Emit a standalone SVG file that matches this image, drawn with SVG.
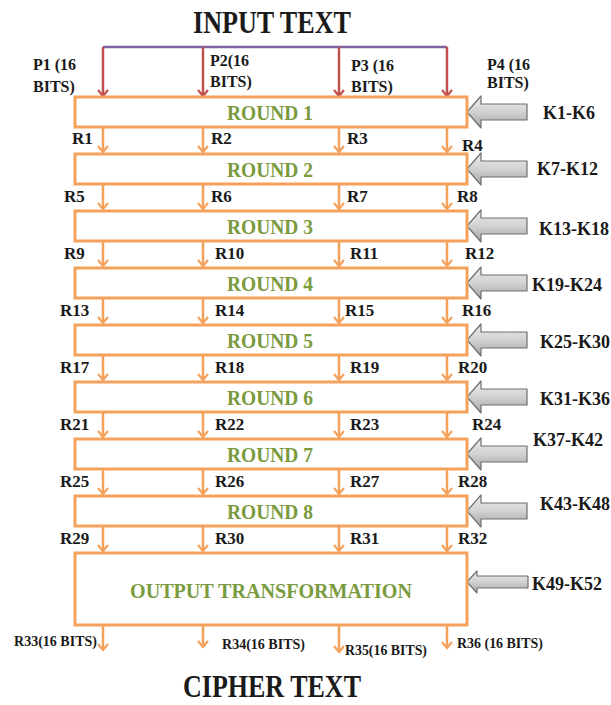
<svg xmlns="http://www.w3.org/2000/svg" width="611" height="705" viewBox="0 0 611 705">
<defs>
<style>
.t{font-family:"Liberation Serif","Times New Roman",serif;font-weight:bold;fill:#1a1a1a}
.p{font-size:16px}
.s{font-size:17px}
.k{font-size:18px}
.xs{font-size:14px}
.title{font-size:31px}
.rnd{font-family:"Liberation Serif","Times New Roman",serif;font-weight:bold;font-size:22px;fill:#7A9A3E;text-anchor:middle}
.box{fill:#fff;stroke:#F4A15C;stroke-width:3}
.oa{stroke:#F4A15C;stroke-width:2.5;fill:none}
.ra{stroke:#C0504D;stroke-width:2.5;fill:none}
.key{fill:url(#g);stroke:#6f6f6f;stroke-width:1.2;stroke-linejoin:round}
</style>
<linearGradient id="g" x1="0" y1="0" x2="0" y2="1">
<stop offset="0" stop-color="#ececec"/>
<stop offset="0.5" stop-color="#d2d2d2"/>
<stop offset="1" stop-color="#a4a4a4"/>
</linearGradient>
<marker id="mo" markerWidth="12" markerHeight="12" refX="6" refY="10" orient="0" markerUnits="userSpaceOnUse">
<path d="M1,4 L6,10 L11,4" fill="none" stroke="#F4A15C" stroke-width="2.2"/>
</marker>
<marker id="mr" markerWidth="12" markerHeight="12" refX="6" refY="10" orient="0" markerUnits="userSpaceOnUse">
<path d="M1,4 L6,10 L11,4" fill="none" stroke="#C0504D" stroke-width="2.2"/>
</marker>
<path id="karrow" d="M0,0 L14,-16 L14,-8 L60,-8 L60,8 L14,8 L14,16 Z"/>
<path id="karrow2" d="M0,0 L10,-11 L10,-6 L61,-6 L61,6 L10,6 L10,11 Z"/>
</defs>

<text class="t title" x="272" y="33" text-anchor="middle" textLength="158" lengthAdjust="spacingAndGlyphs">INPUT TEXT</text>

<g id="connectors">
<path d="M103,47 L447,47" stroke="#8064A2" stroke-width="2.5" fill="none"/>
<path class="ra" d="M103,47 V96" marker-end="url(#mr)"/>
<path class="ra" d="M203,47 V96" marker-end="url(#mr)"/>
<path class="ra" d="M339,47 V96" marker-end="url(#mr)"/>
<path class="ra" d="M447,47 V96" marker-end="url(#mr)"/>
<g class="oa">
<path d="M103,127 V152" marker-end="url(#mo)"/><path d="M203,127 V152" marker-end="url(#mo)"/><path d="M339,127 V152" marker-end="url(#mo)"/><path d="M447,127 V152" marker-end="url(#mo)"/>
<path d="M103,184 V209" marker-end="url(#mo)"/><path d="M203,184 V209" marker-end="url(#mo)"/><path d="M339,184 V209" marker-end="url(#mo)"/><path d="M447,184 V209" marker-end="url(#mo)"/>
<path d="M103,241 V266" marker-end="url(#mo)"/><path d="M203,241 V266" marker-end="url(#mo)"/><path d="M339,241 V266" marker-end="url(#mo)"/><path d="M447,241 V266" marker-end="url(#mo)"/>
<path d="M103,298 V323" marker-end="url(#mo)"/><path d="M203,298 V323" marker-end="url(#mo)"/><path d="M339,298 V323" marker-end="url(#mo)"/><path d="M447,298 V323" marker-end="url(#mo)"/>
<path d="M103,355 V380" marker-end="url(#mo)"/><path d="M203,355 V380" marker-end="url(#mo)"/><path d="M339,355 V380" marker-end="url(#mo)"/><path d="M447,355 V380" marker-end="url(#mo)"/>
<path d="M103,412 V437" marker-end="url(#mo)"/><path d="M203,412 V437" marker-end="url(#mo)"/><path d="M339,412 V437" marker-end="url(#mo)"/><path d="M447,412 V437" marker-end="url(#mo)"/>
<path d="M103,469 V494" marker-end="url(#mo)"/><path d="M203,469 V494" marker-end="url(#mo)"/><path d="M339,469 V494" marker-end="url(#mo)"/><path d="M447,469 V494" marker-end="url(#mo)"/>
<path d="M103,526 V551" marker-end="url(#mo)"/><path d="M203,526 V551" marker-end="url(#mo)"/><path d="M339,526 V551" marker-end="url(#mo)"/><path d="M447,526 V551" marker-end="url(#mo)"/>
<path d="M103,625 V650" marker-end="url(#mo)"/><path d="M203,625 V647" marker-end="url(#mo)"/><path d="M339,625 V652" marker-end="url(#mo)"/><path d="M447,625 V648" marker-end="url(#mo)"/>
</g>
<use href="#karrow" class="key" x="467" y="112"/>
<use href="#karrow" class="key" x="467" y="169"/>
<use href="#karrow" class="key" x="467" y="226"/>
<use href="#karrow" class="key" x="467" y="283"/>
<use href="#karrow" class="key" x="467" y="340"/>
<use href="#karrow" class="key" x="467" y="397"/>
<use href="#karrow" class="key" x="467" y="454"/>
<use href="#karrow" class="key" x="467" y="511"/>
<use href="#karrow2" class="key" x="467" y="582"/>
</g>

<g id="input-labels" class="t p">
<text x="33" y="70">P1 (16</text><text x="33" y="92">BITS)</text>
<text x="210" y="66">P2(16</text><text x="210" y="87">BITS)</text>
<text x="351" y="71">P3 (16</text><text x="351" y="92">BITS)</text>
<text x="487" y="70">P4 (16</text><text x="487" y="88">BITS)</text>
</g>

<g id="round1"><rect class="box" x="75" y="97" width="392" height="30"/><text class="rnd" x="270" y="120" textLength="86" lengthAdjust="spacingAndGlyphs">ROUND 1</text></g>
<g id="round2"><rect class="box" x="75" y="154" width="392" height="30"/><text class="rnd" x="270" y="177" textLength="86" lengthAdjust="spacingAndGlyphs">ROUND 2</text></g>
<g id="round3"><rect class="box" x="75" y="211" width="392" height="30"/><text class="rnd" x="270" y="234" textLength="86" lengthAdjust="spacingAndGlyphs">ROUND 3</text></g>
<g id="round4"><rect class="box" x="75" y="268" width="392" height="30"/><text class="rnd" x="270" y="291" textLength="86" lengthAdjust="spacingAndGlyphs">ROUND 4</text></g>
<g id="round5"><rect class="box" x="75" y="325" width="392" height="30"/><text class="rnd" x="270" y="348" textLength="86" lengthAdjust="spacingAndGlyphs">ROUND 5</text></g>
<g id="round6"><rect class="box" x="75" y="382" width="392" height="30"/><text class="rnd" x="270" y="405" textLength="86" lengthAdjust="spacingAndGlyphs">ROUND 6</text></g>
<g id="round7"><rect class="box" x="75" y="439" width="392" height="30"/><text class="rnd" x="270" y="462" textLength="86" lengthAdjust="spacingAndGlyphs">ROUND 7</text></g>
<g id="round8"><rect class="box" x="75" y="496" width="392" height="30"/><text class="rnd" x="270" y="519" textLength="86" lengthAdjust="spacingAndGlyphs">ROUND 8</text></g>
<g id="output"><rect class="box" x="75" y="553" width="392" height="72"/><text class="rnd" x="271" y="598" textLength="282" lengthAdjust="spacingAndGlyphs">OUTPUT TRANSFORMATION</text></g>

<g id="r-labels" class="t s">
<text x="72" y="144">R1</text><text x="211" y="144">R2</text><text x="347" y="144">R3</text><text x="462" y="151">R4</text>
<text x="64" y="202">R5</text><text x="211" y="202">R6</text><text x="347" y="202">R7</text><text x="457" y="202">R8</text>
<text x="64" y="259">R9</text><text x="215" y="259">R10</text><text x="350" y="259">R11</text><text x="465" y="259">R12</text>
<text x="60" y="316">R13</text><text x="215" y="316">R14</text><text x="345" y="316">R15</text><text x="462" y="316">R16</text>
<text x="60" y="373">R17</text><text x="215" y="373">R18</text><text x="350" y="373">R19</text><text x="458" y="373">R20</text>
<text x="60" y="430">R21</text><text x="215" y="430">R22</text><text x="350" y="430">R23</text><text x="472" y="430">R24</text>
<text x="60" y="487">R25</text><text x="215" y="487">R26</text><text x="350" y="487">R27</text><text x="458" y="487">R28</text>
<text x="60" y="544">R29</text><text x="215" y="544">R30</text><text x="350" y="544">R31</text><text x="458" y="544">R32</text>
</g>

<g id="key-labels" class="t k">
<text x="543" y="119">K1-K6</text>
<text x="537" y="175">K7-K12</text>
<text x="539" y="235">K13-K18</text>
<text x="532" y="291">K19-K24</text>
<text x="540" y="348">K25-K30</text>
<text x="540" y="405">K31-K36</text>
<text x="533" y="446">K37-K42</text>
<text x="540" y="510">K43-K48</text>
<text x="532" y="590">K49-K52</text>
</g>

<g id="output-labels" class="t xs">
<text x="14" y="646" textLength="83" lengthAdjust="spacingAndGlyphs">R33(16 BITS)</text>
<text x="222" y="649" textLength="83" lengthAdjust="spacingAndGlyphs">R34(16 BITS)</text>
<text x="345" y="655" textLength="82" lengthAdjust="spacingAndGlyphs">R35(16 BITS)</text>
<text x="457" y="648" textLength="86" lengthAdjust="spacingAndGlyphs">R36 (16 BITS)</text>
</g>

<text class="t title" x="272" y="697" text-anchor="middle" textLength="178" lengthAdjust="spacingAndGlyphs">CIPHER TEXT</text>
</svg>
